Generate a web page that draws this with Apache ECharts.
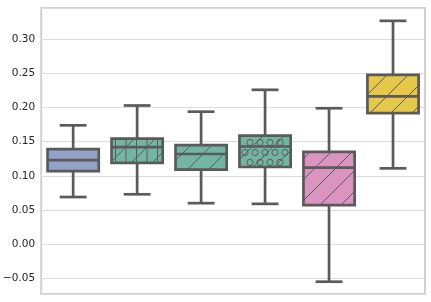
<!DOCTYPE html>
<html>
<head>
<meta charset="utf-8">
<script src="https://cdn.jsdelivr.net/npm/echarts@6/dist/echarts.min.js"></script>
<style>html,body{margin:0;padding:0;background:#fff;}#c{width:431px;height:302px;}</style>
</head>
<body>
<div id="c"></div>
<script>
const categories = ['g1', 'g2', 'g3', 'g4', 'g5', 'g6'];
const lowWhisker = [0.069, 0.073, 0.060, 0.059, -0.055, 0.111];
const q1Values   = [0.107, 0.119, 0.109, 0.113, 0.057, 0.192];
const medians    = [0.123, 0.142, 0.132, 0.143, 0.112, 0.2165];
const q3Values   = [0.139, 0.1545, 0.145, 0.159, 0.135, 0.248];
const highWhisker= [0.174, 0.203, 0.194, 0.226, 0.199, 0.327];
const boxColors  = ['#93A2C6', '#72B6A1', '#72B6A1', '#72B6A1', '#DB94C0', '#E5C849'];
const hatches    = ['', '|/', '/', 'o/', '/', '/'];

const EDGE = '#5a5a5a';
const DIAG = 21;    // diagonal hatch spacing (px)
const VSTEP = 10.5; // vertical hatch spacing (px)
const CSTEP = 10;   // circle hatch spacing (px)

const data = categories.map((c, i) => [i, lowWhisker[i], q1Values[i], medians[i], q3Values[i], highWhisker[i]]);

function hatchChildren(x0, y0, w, h, hatch) {
  const out = [];
  const ls = { stroke: EDGE, lineWidth: 1, fill: null };
  if (hatch.indexOf('/') >= 0) {
    const kmin = x0 + y0, kmax = x0 + w + y0 + h;
    let k = Math.ceil(kmin / DIAG) * DIAG;
    for (; k <= kmax; k += DIAG) {
      const xa = Math.max(x0, k - (y0 + h));
      const xb = Math.min(x0 + w, k - y0);
      if (xb - xa < 0.5) continue;
      out.push({ type: 'line', shape: { x1: xa, y1: k - xa, x2: xb, y2: k - xb }, style: ls, silent: true });
    }
  }
  if (hatch.indexOf('|') >= 0) {
    let x = Math.ceil(x0 / VSTEP) * VSTEP;
    for (; x < x0 + w; x += VSTEP) {
      out.push({ type: 'line', shape: { x1: x, y1: y0, x2: x, y2: y0 + h }, style: ls, silent: true });
    }
  }
  if (hatch.indexOf('o') >= 0) {
    const r = 3.1, phase = 2.5;
    for (let row = Math.floor((y0 - phase) / CSTEP) - 1; row * CSTEP + phase < y0 + h + CSTEP; row++) {
      const cy = row * CSTEP + phase;
      if (cy < y0 + 1 || cy > y0 + h - 1) continue;
      const off = (row % 2 === 0) ? 0 : CSTEP / 2;
      for (let c = Math.floor((x0 - off) / CSTEP) - 1; c * CSTEP + off < x0 + w + CSTEP; c++) {
        const cx = c * CSTEP + off;
        if (cx < x0 + r - 1 || cx > x0 + w - r + 1) continue;
        out.push({ type: 'circle', shape: { cx: cx, cy: cy, r: r }, style: ls, silent: true });
      }
    }
  }
  return out;
}

const chart = echarts.init(document.getElementById('c'), null, { renderer: 'canvas' });
chart.setOption({
  animation: false,
  backgroundColor: '#ffffff',
  grid: { left: 40, right: 6, top: 8, bottom: 8, show: true, borderColor: '#d2d2d2', borderWidth: 2, backgroundColor: 'transparent' },
  xAxis: {
    type: 'category', data: categories, boundaryGap: true,
    axisLine: { show: false }, axisTick: { show: false }, axisLabel: { show: false }, splitLine: { show: false }
  },
  yAxis: {
    type: 'value', min: -0.073, max: 0.3458, splitNumber: 8,
    axisLine: { show: false }, axisTick: { show: false },
    splitLine: { show: true, lineStyle: { color: '#dcdcdc', width: 1 } },
    axisLabel: {
      showMinLabel: false, showMaxLabel: false, margin: 6,
      color: '#262626', fontSize: 10.5, fontFamily: 'DejaVu Sans',
      formatter: function (v) { const s = Math.abs(v).toFixed(2); return v < -1e-9 ? '\u2212' + s : s; }
    }
  },
  series: [{
    type: 'custom',
    data: data,
    encode: { x: 0, y: [1, 2, 3, 4, 5] },
    renderItem: function (params, api) {
      const idx = api.value(0);
      const band = api.size([1, 0])[0];
      const bw = band * 0.8, cw = band * 0.42;
      const pLow = api.coord([idx, api.value(1)]);
      const yQ1 = api.coord([idx, api.value(2)])[1];
      const yMed = api.coord([idx, api.value(3)])[1];
      const yQ3 = api.coord([idx, api.value(4)])[1];
      const yHigh = api.coord([idx, api.value(5)])[1];
      const cx = pLow[0], yLow = pLow[1];
      const x0 = cx - bw / 2, w = bw, y0 = yQ3, h = yQ1 - yQ3;
      const lw = 2.7;
      const line = { stroke: EDGE, lineWidth: lw, fill: null };
      const children = [];
      children.push({ type: 'line', shape: { x1: cx, y1: yQ3, x2: cx, y2: yHigh }, style: line });
      children.push({ type: 'line', shape: { x1: cx, y1: yQ1, x2: cx, y2: yLow }, style: line });
      children.push({ type: 'line', shape: { x1: cx - cw / 2, y1: yHigh, x2: cx + cw / 2, y2: yHigh }, style: line });
      children.push({ type: 'line', shape: { x1: cx - cw / 2, y1: yLow, x2: cx + cw / 2, y2: yLow }, style: line });
      children.push({ type: 'rect', shape: { x: x0, y: y0, width: w, height: h }, style: { fill: boxColors[params.dataIndex], stroke: null } });
      hatchChildren(x0, y0, w, h, hatches[params.dataIndex]).forEach(c => children.push(c));
      children.push({ type: 'rect', shape: { x: x0, y: y0, width: w, height: h }, style: { fill: null, stroke: EDGE, lineWidth: lw } });
      children.push({ type: 'line', shape: { x1: x0, y1: yMed, x2: x0 + w, y2: yMed }, style: line });
      return { type: 'group', children: children };
    }
  }]
});
</script>
</body>
</html>
